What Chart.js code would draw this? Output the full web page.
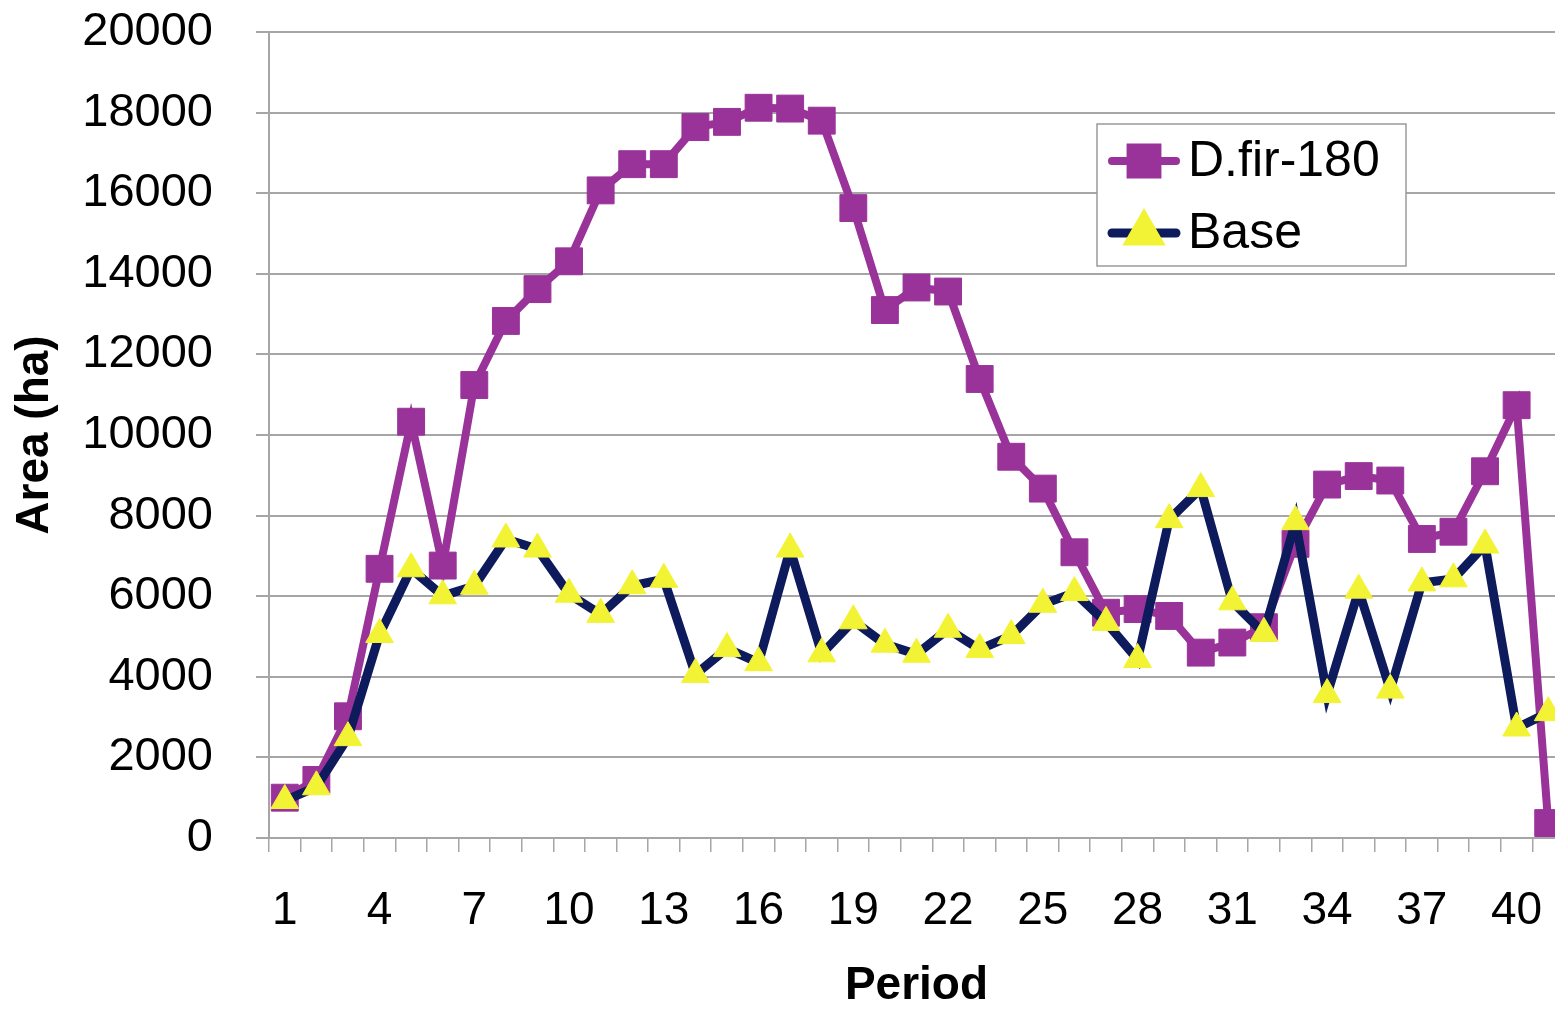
<!DOCTYPE html>
<html>
<head>
<meta charset="utf-8">
<title>Area by period</title>
<script src="https://cdn.jsdelivr.net/npm/chart.js@4.4.1/dist/chart.umd.min.js"></script>
<style>
    html, body { margin: 0; padding: 0; background: #fff; overflow: hidden; }
    #wrap { position: relative; width: 1584px; height: 1009px; }
</style>
</head>
<body>
<div id="wrap"><canvas id="chart"></canvas></div>
<script>
'use strict';

// chart data
var periods = ['1','2','3','4','5','6','7','8','9','10','11','12','13','14','15','16','17','18','19','20',
    '21','22','23','24','25','26','27','28','29','30','31','32','33','34','35','36','37','38','39','40','41'];
var dfir180 = [1000,1440,3020,6680,10330,6760,11240,12830,13620,14310,16070,16720,16720,17640,17770,18120,18100,17800,15630,13100,
    13660,13560,11390,9460,8670,7090,5590,5680,5510,4600,4850,5230,7300,8770,8980,8870,7420,7600,9100,10740,370];
var base = [930,1270,2490,5050,6680,6010,6250,7420,7170,6050,5550,6260,6420,4060,4700,4350,7170,4570,5390,4810,
    4560,5180,4680,5020,5800,6090,5350,4430,7900,8670,5860,5080,7850,3560,6150,3670,6330,6430,7270,2730,3110];
var yTicks = [0,2000,4000,6000,8000,10000,12000,14000,16000,18000,20000];

var FONT = "'Liberation Sans', Arial, sans-serif";
var GRID = '#a6a6a6';

// legend box drawn inside the plot, like the original
var boxLegend = {
    id: 'boxLegend',
    afterDraw: function(chart) {
        var ctx = chart.ctx;
        var x = 1097, y = 124, w = 309, h = 142;
        ctx.save();
        ctx.fillStyle = '#fff';
        ctx.fillRect(x, y, w, h);
        ctx.strokeStyle = '#9a9a9a';
        ctx.lineWidth = 1.5;
        ctx.strokeRect(x, y, w, h);
        var rows = [161, 233];
        chart.data.datasets.forEach(function(ds, i) {
            var ry = rows[i];
            ctx.strokeStyle = ds.borderColor;
            ctx.lineWidth = ds.borderWidth;
            ctx.lineCap = 'round';
            ctx.beginPath();
            ctx.moveTo(1112, ry);
            ctx.lineTo(1176, ry);
            ctx.stroke();
            ctx.fillStyle = ds.pointBackgroundColor;
            ctx.strokeStyle = ds.pointBorderColor;
            Chart.helpers.drawPoint(ctx, {
                pointStyle: ds.pointStyle,
                radius: ds.pointRadius,
                borderWidth: ds.pointBorderWidth
            }, 1144, ry);
            ctx.fillStyle = '#000';
            ctx.font = '50px ' + FONT;
            ctx.textAlign = 'left';
            ctx.textBaseline = 'middle';
            ctx.fillText(ds.label, 1188, ry + 1);
        });
        ctx.restore();
    }
};

function noEdgePadding(scale) {
    scale.paddingTop = 0;
    scale.paddingBottom = 0;
    scale.paddingLeft = 0;
    scale.paddingRight = 0;
}

new Chart(document.getElementById('chart'), {
    type: 'line',
    data: {
        labels: periods,
        datasets: [{
            label: 'D.fir-180',
            data: dfir180,
            order: 1,
            borderColor: '#993399',
            borderWidth: 8,
            pointStyle: 'rect',
            pointRadius: 19,
            pointBackgroundColor: '#993399',
            pointBorderColor: '#993399',
            pointBorderWidth: 1,
            tension: 0
        }, {
            label: 'Base',
            data: base,
            order: 0,
            borderColor: '#0d1a5c',
            borderWidth: 9,
            pointStyle: 'triangle',
            pointRadius: 16,
            pointBackgroundColor: '#f3f335',
            pointBorderColor: '#f3f335',
            pointBorderWidth: 1,
            tension: 0
        }]
    },
    options: {
        responsive: true,
        maintainAspectRatio: false,
        animation: false,
        layout: { padding: { top: 32, right: 6, left: 0, bottom: 0 } },
        plugins: {
            legend: { display: false },
            tooltip: { enabled: false }
        },
        scales: {
            x: {
                type: 'category',
                offset: true,
                afterFit: function(scale) { scale.height = 171; noEdgePadding(scale); },
                grid: {
                    offset: true,
                    drawOnChartArea: false,
                    drawTicks: true,
                    tickLength: 14,
                    color: GRID,
                    lineWidth: 1.5
                },
                border: { color: GRID, width: 2 },
                ticks: {
                    autoSkip: false,
                    maxRotation: 0,
                    padding: 32,
                    color: '#000',
                    font: { family: FONT, size: 46 },
                    callback: function(val, idx) {
                        return idx % 3 === 0 ? periods[idx] : '';
                    }
                },
                title: {
                    display: true,
                    text: 'Period',
                    color: '#000',
                    padding: { top: 0, bottom: 0 },
                    font: { family: FONT, size: 46, weight: 'bold', lineHeight: 1 }
                }
            },
            y: {
                min: 0,
                max: 20000,
                afterFit: function(scale) { scale.width = 269; noEdgePadding(scale); },
                afterBuildTicks: function(scale) {
                    scale.ticks = yTicks.map(function(v) { return { value: v }; });
                },
                grid: {
                    color: GRID,
                    lineWidth: 2,
                    tickLength: 13
                },
                border: { color: GRID, width: 2 },
                ticks: {
                    padding: 43,
                    color: '#000',
                    font: { family: FONT, size: 47 },
                    callback: function(val) { return String(val); }
                },
                title: {
                    display: true,
                    text: 'Area (ha)',
                    color: '#000',
                    padding: { top: 12, bottom: 0 },
                    font: { family: FONT, size: 46, weight: 'bold', lineHeight: 1 }
                }
            }
        }
    },
    plugins: [boxLegend]
});
</script>
</body>
</html>
